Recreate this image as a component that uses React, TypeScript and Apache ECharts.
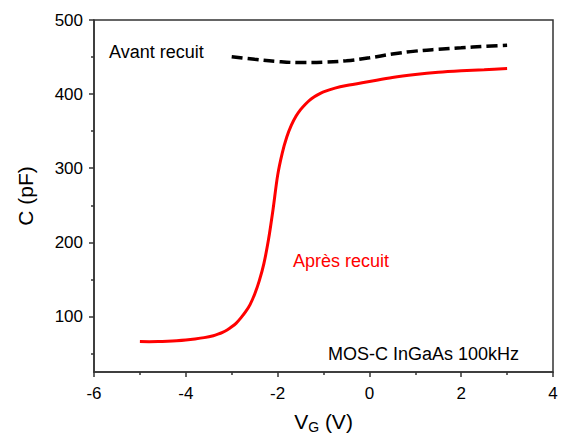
import React, { useEffect, useRef } from "react";
import * as echarts from "echarts";

// "Après recuit" (red, solid)
const V_APRES = [-5, -4.8, -4.6, -4.4, -4.2, -4.0, -3.8, -3.6, -3.4, -3.3, -3.2, -3.1, -3.0, -2.9, -2.8, -2.7, -2.6, -2.5, -2.4, -2.3, -2.2, -2.1, -2.0, -1.9, -1.8, -1.7, -1.6, -1.5, -1.4, -1.3, -1.2, -1.1, -1.0, -0.75, -0.5, 0, 0.5, 1, 1.5, 2, 2.5, 3];
const C_APRES = [66, 65.8, 66, 66.5, 67.2, 68.2, 69.6, 71.4, 74, 76, 78.5, 81.8, 86, 91, 98, 106, 116, 130, 148, 171, 203, 244, 290, 320, 342, 358, 370, 379, 386, 392, 396.5, 400, 403, 408, 411.5, 417, 422.5, 426.5, 429.5, 431.5, 433, 434.5];

// "Avant recuit" (black, dashed)
const V_AVANT = [-3, -2.5, -2, -1.5, -1, -0.5, 0, 0.5, 1, 1.5, 2, 2.5, 3];
const C_AVANT = [450.5, 447, 444, 442.5, 443, 445, 449, 454, 458, 460.5, 462.5, 464.5, 466];

const Y_LABELS = [100, 200, 300, 400, 500];
const Y_MINOR = [50, 150, 250, 350, 450];

const FONT = "Liberation Sans, Arial, sans-serif";

export default function App() {
  const ref = useRef<HTMLDivElement>(null);
  useEffect(() => {
    if (!ref.current) return;
    const chart = echarts.init(ref.current, null, { renderer: "svg" });
    const apres = V_APRES.map((v, i) => [v, C_APRES[i]]);
    const avant = V_AVANT.map((v, i) => [v, C_AVANT[i]]);
    const axisColor = "#333";
    chart.setOption({
      animation: false,
      backgroundColor: "#fff",
      grid: {
        left: 94,
        right: 10,
        top: 20,
        bottom: 64,
        show: true,
        borderColor: axisColor,
        borderWidth: 1.5,
        outerBoundsMode: "none",
        containLabel: false,
      },
      xAxis: {
        type: "value",
        min: -6,
        max: 4,
        interval: 2,
        name: "{v|V}{s|G}{v| (V)}",
        nameLocation: "middle",
        nameGap: 37,
        nameTextStyle: {
          rich: {
            v: { fontSize: 21, fontFamily: FONT, color: "#000", lineHeight: 24 },
            s: { fontSize: 14, fontFamily: FONT, color: "#000", padding: [11, 0, 0, 0], lineHeight: 22 },
          },
        },
        axisLine: { show: true, onZero: false, lineStyle: { color: axisColor, width: 1.5 } },
        axisTick: { show: true, inside: false, length: 5, lineStyle: { color: axisColor, width: 1.5 } },
        minorTick: { show: true, splitNumber: 2, length: 3, lineStyle: { color: axisColor, width: 1.5 } },
        axisLabel: { color: "#000", fontSize: 17, fontFamily: FONT, margin: 13 },
        splitLine: { show: false },
      },
      yAxis: [
        {
          type: "value",
          min: 25,
          max: 500,
          name: "C (pF)",
          nameLocation: "middle",
          nameRotate: 90,
          nameGap: 58,
          nameTextStyle: { fontSize: 21, fontFamily: FONT, color: "#000" },
          axisLine: { show: true, onZero: false, lineStyle: { color: axisColor, width: 1.5 } },
          axisTick: { show: true, inside: false, length: 3, customValues: Y_MINOR, lineStyle: { color: axisColor, width: 1.5 } },
          axisLabel: { color: "#000", fontSize: 17, fontFamily: FONT, margin: 11, customValues: Y_LABELS },
          splitLine: { show: false },
        },
        {
          type: "value",
          min: 25,
          max: 500,
          position: "left",
          axisLine: { show: false, onZero: false },
          axisTick: { show: true, inside: false, length: 5, customValues: Y_LABELS, lineStyle: { color: axisColor, width: 1.5 } },
          axisLabel: { show: false },
          splitLine: { show: false },
        },
      ],
      series: [
        {
          name: "Après recuit",
          type: "line",
          data: apres,
          showSymbol: false,
          smooth: 0.3,
          lineStyle: { color: "#ff0000", width: 3 },
          z: 3,
        },
        {
          name: "Avant recuit",
          type: "line",
          data: avant,
          showSymbol: false,
          smooth: 0.4,
          lineStyle: { color: "#000", width: 3.5, type: [11, 5] },
          z: 4,
        },
      ],
      graphic: [
        { type: "text", left: 109, top: 43, style: { text: "Avant recuit", fontSize: 18, fontFamily: FONT, fill: "#000" } },
        { type: "text", left: 293, top: 252, style: { text: "Après recuit", fontSize: 18, fontFamily: FONT, fill: "#ff0000" } },
        { type: "text", left: 328, top: 345, style: { text: "MOS-C InGaAs 100kHz", fontSize: 18, fontFamily: FONT, fill: "#000" } },
      ],
    });
    return () => chart.dispose();
  }, []);
  return <div ref={ref} style={{ position: "fixed", left: 0, top: 0, width: 563, height: 436 }} />;
}
